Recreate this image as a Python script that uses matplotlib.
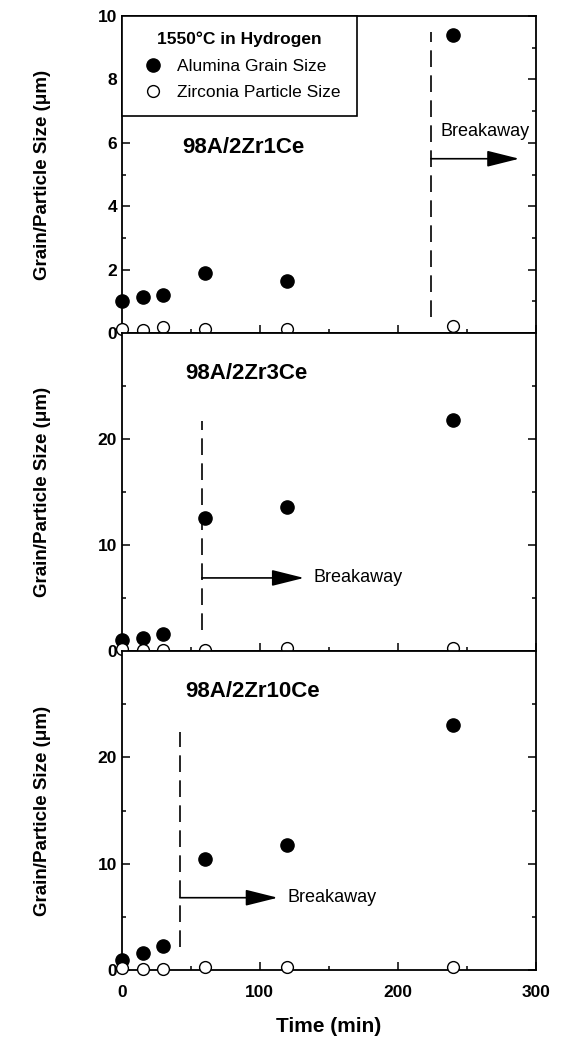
import matplotlib
matplotlib.use("Agg")
import matplotlib.pyplot as plt
from matplotlib.lines import Line2D

plt.rcParams['font.family'] = ['Liberation Sans', 'DejaVu Sans']

# sintering time (min)
time = [0, 15, 30, 60, 120, 240]

# grain / particle sizes (um)
alumina_1ce = [1.0, 1.13, 1.21, 1.9, 1.65, 9.4]
zirconia_1ce = [0.12, 0.1, 0.18, 0.13, 0.12, 0.22]
alumina_3ce = [1.0, 1.2, 1.6, 12.6, 13.6, 21.8]
zirconia_3ce = [0.15, 0.1, 0.1, 0.12, 0.3, 0.3]
alumina_10ce = [0.96, 1.6, 2.3, 10.4, 11.8, 23.0]
zirconia_10ce = [0.15, 0.1, 0.1, 0.25, 0.3, 0.3]

names = ['98A/2Zr1Ce', '98A/2Zr3Ce', '98A/2Zr10Ce']
breakaway_time = [224, 58, 42]

fig = plt.figure(figsize=(5.64, 10.38), dpi=100)
left, width = 0.216, 0.734
bottoms = [0.679, 0.3728, 0.0655]
heights = [0.3056, 0.3062, 0.3073]

panels = [
    (alumina_1ce, zirconia_1ce, 10),
    (alumina_3ce, zirconia_3ce, 30),
    (alumina_10ce, zirconia_10ce, 30),
]

arrow_style = dict(arrowstyle='-|>,head_length=0.8,head_width=0.2',
                   color='black', lw=1.2, mutation_scale=25, shrinkA=0, shrinkB=0)

for i, (alu, zir, ymax) in enumerate(panels):
    ax = fig.add_axes([left, bottoms[i], width, heights[i]])
    ax.plot(time, alu, 'o', color='black', markersize=9.5, clip_on=False, zorder=5)
    ax.plot(time, zir, 'o', mfc='white', mec='black', mew=1.0, markersize=8.5,
            clip_on=False, zorder=5)
    ax.set_xlim(0, 300)
    ax.set_ylim(0, ymax)
    ax.set_xticks([0, 100, 200, 300])
    ax.set_xticks([50, 150, 250], minor=True)
    if ymax == 10:
        ax.set_yticks([0, 2, 4, 6, 8, 10])
        ax.set_yticks([1, 3, 5, 7, 9], minor=True)
    else:
        ax.set_yticks([0, 10, 20])
        ax.set_yticks([5, 15, 25], minor=True)
    ax.tick_params(which='both', direction='in', left=True, right=True,
                   bottom=True, top=False, width=1.1)
    ax.tick_params(which='major', length=6, labelsize=12.5)
    ax.tick_params(which='minor', length=3)
    ax.tick_params(axis='x', pad=11)
    for lab in ax.get_yticklabels():
        lab.set_fontweight('bold')
    if i < 2:
        ax.tick_params(axis='x', labelbottom=False)
    else:
        for lab in ax.get_xticklabels():
            lab.set_fontweight('bold')
        ax.set_xlabel('Time (min)', fontsize=15, fontweight='bold', labelpad=12)
    for sp in ax.spines.values():
        sp.set_linewidth(1.3)
    ax.set_ylabel('Grain/Particle Size (\u03bcm)', fontsize=13.5, fontweight='bold')
    ax.yaxis.set_label_coords(-0.17, 0.5)

    t0 = breakaway_time[i]
    if i == 0:
        ax.plot([t0, t0], [0.5, 9.5], color='black', lw=1.2, dashes=(10, 5))
        ax.annotate('', xy=(288, 5.5), xytext=(t0, 5.5), arrowprops=arrow_style)
        ax.text(231, 6.35, 'Breakaway', fontsize=13, va='center', ha='left')
        ax.text(44, 5.85, names[i], fontsize=16, fontweight='bold', va='center')
        handles = [
            Line2D([], [], ls='none', marker='o', color='black', markersize=9.5),
            Line2D([], [], ls='none', marker='o', mfc='white', mec='black', markersize=8.5),
        ]
        leg = ax.legend(handles, ['Alumina Grain Size', 'Zirconia Particle Size'],
                        title='1550\u00b0C in Hydrogen', loc='upper left',
                        borderaxespad=0, fancybox=False, edgecolor='black',
                        fontsize=12.5, title_fontsize=12.5, handletextpad=0.5,
                        borderpad=0.9, labelspacing=0.65, handlelength=1.8)
        leg.get_title().set_fontweight('bold')
        leg.get_frame().set_linewidth(1.2)
        leg.get_frame().set_alpha(1)
    else:
        ybot, ytop, yarr = (2.0, 21.7, 6.9) if i == 1 else (2.2, 22.4, 6.8)
        xend = 132 if i == 1 else 113
        ax.plot([t0, t0], [ybot, ytop], color='black', lw=1.2, dashes=(10, 5))
        ax.annotate('', xy=(xend, yarr), xytext=(t0, yarr), arrowprops=arrow_style)
        ax.text(xend + 7, yarr, 'Breakaway', fontsize=13, va='center', ha='left')
        ax.text(46, 26.2, names[i], fontsize=16, fontweight='bold', va='center')

fig.savefig('out.png', dpi=100)
